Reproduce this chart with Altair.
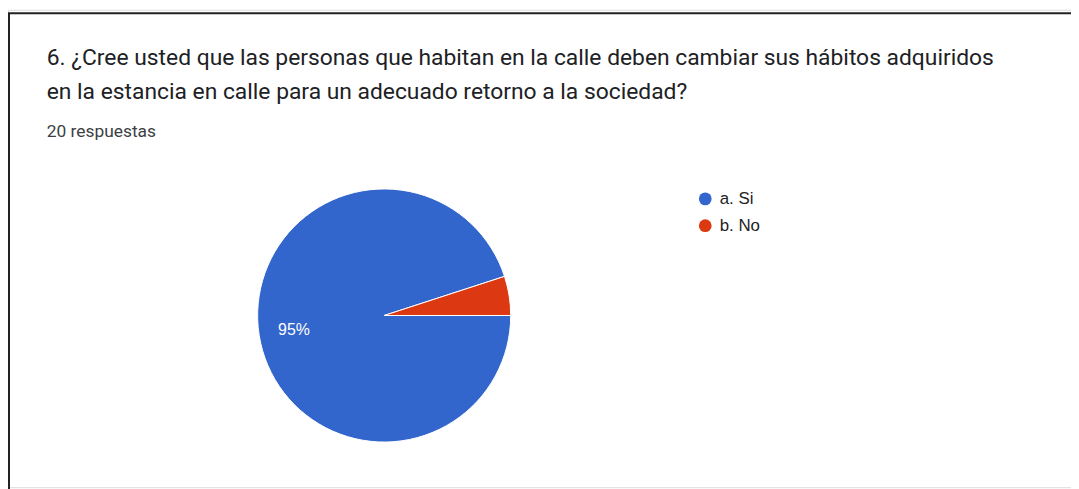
import math
import altair as alt
import pandas as pd

# ---- data ----
categories = ["a. Si", "b. No"]
counts = [19, 1]
colors = ["#3366cc", "#dc3912"]

question_line1 = "6. ¿Cree usted que las personas que habitan en la calle deben cambiar sus hábitos adquiridos"
question_line2 = "en la estancia en calle para un adecuado retorno a la sociedad?"
responses_text = "20 respuestas"

total = sum(counts)
pct_labels = [f"{round(100 * c / total)}%" if c / total >= 0.1 else "" for c in counts]

df = pd.DataFrame({
    "category": categories,
    "count": counts,
    "order": list(range(len(categories))),
    "label": pct_labels,
})

W, H = 1071, 481
CX, CY, R = 379, 308, 127.5

theta = alt.Theta("count:Q", stack=True,
                  scale=alt.Scale(range=[math.pi / 2, math.pi / 2 + 2 * math.pi]))
color = alt.Color(
    "category:N",
    scale=alt.Scale(domain=categories, range=colors),
    legend=alt.Legend(
        title=None, orient="none", legendX=694, legendY=182,
        symbolType="circle", symbolSize=165, symbolStrokeWidth=0,
        labelFontSize=17, labelColor="#222222", labelFont="Arial",
        rowPadding=9, labelOffset=6, padding=0,
    ),
)

base = alt.Chart(df)

pie = base.mark_arc(radius=R, stroke="white", strokeWidth=1).encode(
    theta=theta,
    color=color,
    order=alt.Order("order:Q"),
    x=alt.value(CX),
    y=alt.value(CY),
)

pct = base.mark_text(radius=92, color="white", fontSize=16, font="Arial").encode(
    theta=theta,
    text="label:N",
    order=alt.Order("order:Q"),
    x=alt.value(CX),
    y=alt.value(CY),
)

line1 = alt.Chart(pd.DataFrame({"t": [question_line1]})).mark_text(
    align="left", baseline="alphabetic", fontSize=23, font="Roboto", color="#202124").encode(
    text="t:N", x=alt.value(39), y=alt.value(56))
line2 = alt.Chart(pd.DataFrame({"t": [question_line2]})).mark_text(
    align="left", baseline="alphabetic", fontSize=23, font="Roboto", color="#202124").encode(
    text="t:N", x=alt.value(39), y=alt.value(89.5))
resp = alt.Chart(pd.DataFrame({"t": [responses_text]})).mark_text(
    align="left", baseline="alphabetic", fontSize=17.5, font="Roboto", color="#3c4043").encode(
    text="t:N", x=alt.value(39), y=alt.value(128))

border = alt.Chart(pd.DataFrame({"a": [0]})).mark_rect(
    fill="transparent", stroke="#222222", strokeWidth=2).encode(
    x=alt.value(1), y=alt.value(3.5), x2=alt.value(1200), y2=alt.value(700))

chart = alt.layer(border, pie, pct, line1, line2, resp).properties(
    width=W, height=H, padding=0,
    autosize=alt.AutoSizeParams(type="none"),
).configure_view(stroke=None).configure(background="white")

chart.save("out.html", embed_options={"renderer": "svg", "actions": False})
